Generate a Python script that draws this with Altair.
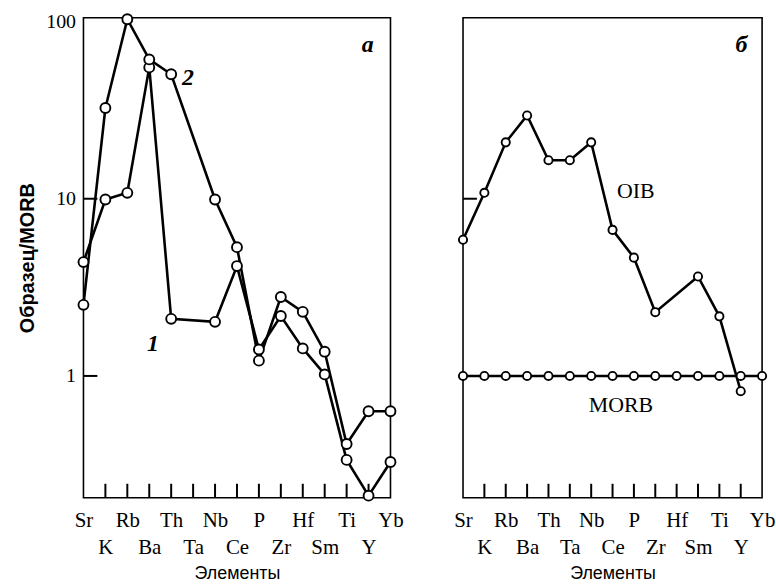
import altair as alt
import pandas as pd

elements = ["Sr", "K", "Rb", "Ba", "Th", "Ta", "Nb", "Ce", "P", "Zr", "Hf", "Sm", "Ti", "Y", "Yb"]

# panel а
series_1 = [4.39, 9.9, 10.8, 55.1, 2.10, None, 2.02, 4.17, 1.41, 2.18, 1.43, 1.02, 0.336, 0.211, 0.327]
series_2 = [2.52, 32.5, 103, 61.1, 50.4, None, 9.9, 5.33, 1.22, 2.79, 2.30, 1.37, 0.413, 0.632, 0.632]
# panel б
oib = [5.87, 10.8, 20.8, 29.5, 16.5, 16.5, 20.8, 6.67, 4.65, 2.29, None, 3.64, 2.17, 0.82, None]
morb = [1.0, 1.0, 1.0, 1.0, 1.0, 1.0, 1.0, 1.0, 1.0, 1.0, 1.0, 1.0, 1.0, 1.0, 1.0]

y_ticks = [1, 10, 100]

# annotations (text, element position, value)
left_italic = [("а", 12.96, 73.3), ("2", 4.76, 47.8), ("1", 3.17, 1.52)]
right_italic = [("б", 13.03, 73.3)]
right_plain = [("OIB", 8.09, 11.0), ("MORB", 7.39, 0.683)]


def table(series):
    rows = []
    for name, vals in series.items():
        for i, v in enumerate(vals):
            if v is not None:
                rows.append({"idx": i, "el": elements[i], "val": v, "s": name})
    return pd.DataFrame(rows)


left_df = table({"1": series_1, "2": series_2})
right_df = table({"OIB": oib, "MORB": morb})

W_L, W_R, H = 309, 301, 483
YDOM = [0.2056, 105]

label_arr = "[" + ",".join(
    ("['%s']" % e) if i % 2 == 0 else ("[' ','%s']" % e) for i, e in enumerate(elements)
) + "]"

x_axis = alt.Axis(
    values=list(range(len(elements))),
    labelExpr=label_arr + "[datum.value]",
    labelFont="Liberation Serif",
    labelFontSize=21,
    labelColor="black",
    labelLineHeight=27,
    labelPadding=12,
    labelOverlap=False,
    labelFlush=False,
    labelBound=False,
    labelAngle=0,
    ticks=False,
    domain=False,
    grid=False,
    title="Элементы",
    titleFont="Liberation Sans",
    titleFontSize=18,
    titleFontWeight="normal",
    titleColor="black",
    titlePadding=7,
)

left_y_axis = alt.Axis(
    values=y_ticks,
    format="~g",
    labelFont="Liberation Serif",
    labelFontSize=20,
    labelColor="black",
    labelPadding=8,
    ticks=False,
    domain=False,
    grid=False,
    title="Образец/MORB",
    titleFont="Liberation Sans",
    titleFontSize=20,
    titleFontWeight="bold",
    titleColor="black",
    titlePadding=8,
)

right_y_axis = alt.Axis(
    values=y_ticks,
    labels=False,
    ticks=False,
    domain=False,
    grid=False,
    title="",
)

x_scale = alt.Scale(domain=[0, len(elements) - 1], nice=False, zero=False)
y_scale = alt.Scale(type="log", domain=YDOM, nice=False)

inner_ticks = pd.DataFrame({"idx": list(range(1, len(elements) - 1))})


def panel(df, width, italic, plain, yaxis, ytick_vals, size):
    x = alt.X("idx:Q", scale=x_scale, axis=x_axis)
    y = alt.Y("val:Q", scale=y_scale, axis=yaxis)
    base = alt.Chart(df)
    lines = base.mark_line(color="black", strokeWidth=2.6).encode(x=x, y=y, detail="s:N")
    pts = base.mark_circle(fill="white", stroke="black", strokeWidth=1.9, size=size, opacity=1).encode(
        x=x, y=y, detail="s:N"
    )
    xt = alt.Chart(inner_ticks).mark_rule(color="black", strokeWidth=2).encode(
        x=x, y=alt.value(H), y2=alt.value(H - 14)
    )
    yt = alt.Chart(pd.DataFrame({"val": ytick_vals})).mark_rule(color="black", strokeWidth=2).encode(
        y=y, x=alt.value(0), x2=alt.value(14)
    )
    layers = [xt, yt, lines, pts]
    if italic:
        layers.append(
            alt.Chart(pd.DataFrame(italic, columns=["t", "idx", "val"])).mark_text(
                font="Liberation Serif", fontSize=24, fontStyle="italic", fontWeight="bold", color="black"
            ).encode(x=x, y=y, text="t:N")
        )
    if plain:
        layers.append(
            alt.Chart(pd.DataFrame(plain, columns=["t", "idx", "val"])).mark_text(
                font="Liberation Serif", fontSize=22, color="black"
            ).encode(x=x, y=y, text="t:N")
        )
    return alt.layer(*layers).properties(width=width, height=H)


left = panel(left_df, W_L, left_italic, [], left_y_axis, [1, 10], 100)
right = panel(right_df, W_R, right_italic, right_plain, right_y_axis, [10], 68)

chart = (
    alt.hconcat(left, right, spacing=73, bounds="flush")
    .properties(padding={"left": 17, "top": 7, "right": 0, "bottom": 0}, background="white")
    .configure_view(stroke="black", strokeWidth=1.6)
)

chart.save("out.html", embed_options={"renderer": "svg", "actions": False})
